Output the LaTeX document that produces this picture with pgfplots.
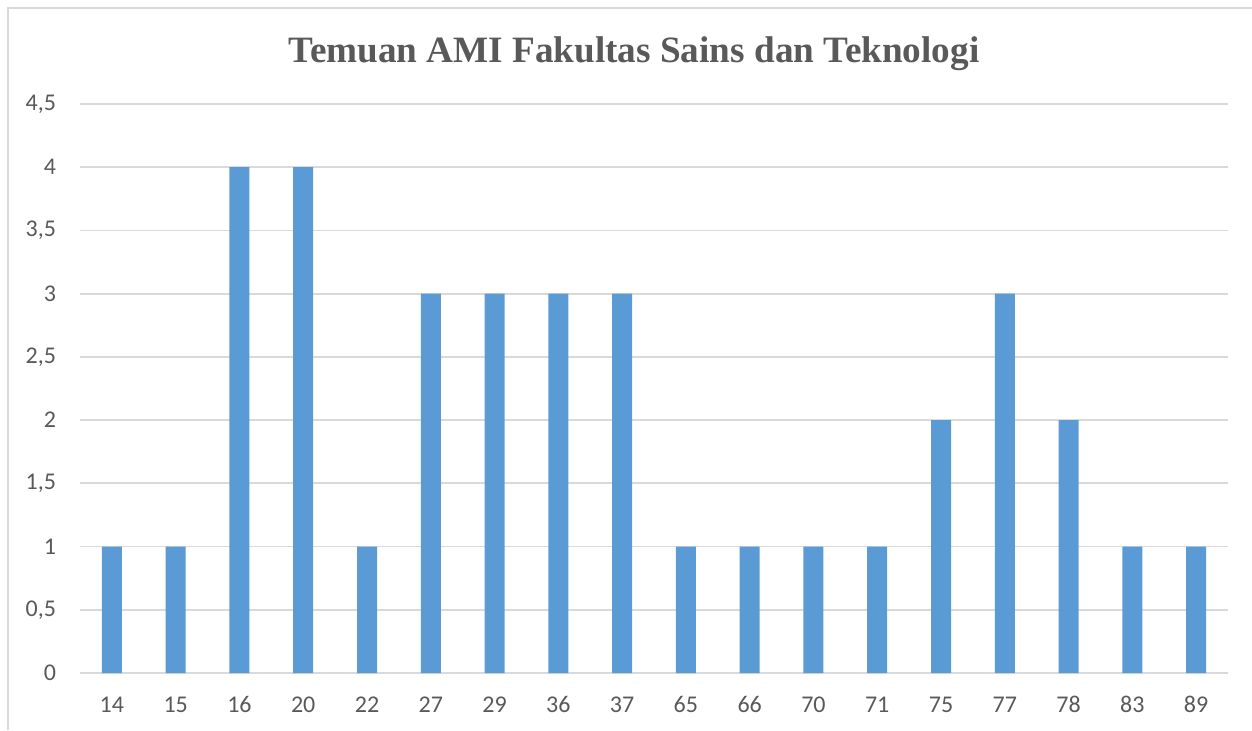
\documentclass[border=0pt]{standalone}
\usepackage{pgfplots}
\pgfplotsset{compat=1.18}
\usepackage{fontspec}
\setmainfont{Carlito}
\newfontfamily\titlefont{Liberation Serif}
\definecolor{barblue}{HTML}{5B9BD5}
\definecolor{gridgray}{HTML}{D9D9D9}
\definecolor{txtgray}{HTML}{595959}
\begin{document}
\begin{tikzpicture}[x=1pt,y=1pt]
\path[use as bounding box] (0,0) rectangle (626,365);
\draw[gridgray, line width=1pt] (4.2,0) -- (4.2,361) -- (626,361);
\node[anchor=base, text=txtgray, font=\titlefont\fontsize{18.6}{22}\selectfont\bfseries] at (317,333.5) {Temuan AMI Fakultas Sains dan Teknologi};
\begin{axis}[
  at={(40pt,28.5pt)}, anchor=south west,
  scale only axis, width=574pt, height=284.5pt,
  xmin=-0.5, xmax=17.5, ymin=0, ymax=4.5,
  axis line style={draw=none},
  ybar, bar width=10pt,
  xtick={0,...,17},
  xticklabels={14,15,16,20,22,27,29,36,37,65,66,70,71,75,77,78,83,89},
  ytick={0,0.5,1,1.5,2,2.5,3,3.5,4,4.5},
  yticklabels={0,{0,5},1,{1,5},2,{2,5},3,{3,5},4,{4,5}},
  major tick length=0pt,
  ymajorgrids, grid style={gridgray, line width=0.9pt},
  tick label style={text=txtgray, font=\fontsize{12}{14}\selectfont},
  yticklabel style={xshift=-8.5pt},
  xticklabel style={anchor=base, yshift=-19.5pt},
]
\addplot[fill=barblue, draw=none] coordinates {
(0,1) (1,1) (2,4) (3,4) (4,1) (5,3) (6,3) (7,3) (8,3) (9,1) (10,1) (11,1) (12,1) (13,2) (14,3) (15,2) (16,1) (17,1)
};
\end{axis}
\end{tikzpicture}
\end{document}
